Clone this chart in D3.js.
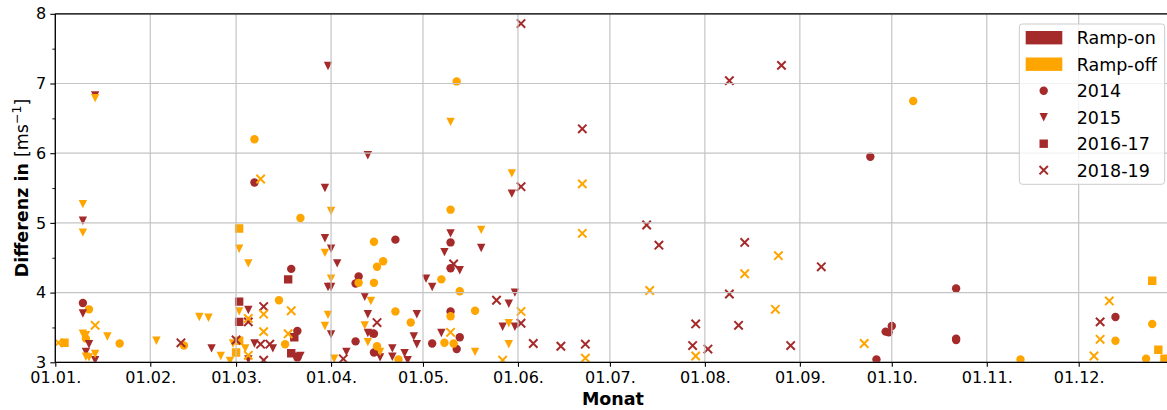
<!DOCTYPE html>
<html>
<head>
<meta charset="utf-8">
<script src="https://cdn.jsdelivr.net/npm/d3@7"></script>
<style>
  body { margin: 0; background: #fff; }
  text { font-family: "DejaVu Sans", sans-serif; }
</style>
</head>
<body>
<svg id="chart" width="1167" height="410"></svg>
<script>
// ---- data: [day "MM-DD", difference in m/s] ----
const monthTicks = ["01-01","02-01","03-01","04-01","05-01","06-01","07-01","08-01","09-01","10-01","11-01","12-01"];
const yTicks = [3, 4, 5, 6, 7, 8];
const rampNames = ["Ramp-on", "Ramp-off"];
const yearNames = ["2014", "2015", "2016-17", "2018-19"];

const on2014 = [["01-10",3.85],["03-07",5.58],["03-19",4.34],["03-21",3.45],["03-21",3.07],["04-10",4.23],["04-09",4.13],["04-22",4.76],["04-09",3.30],["04-15",3.41],["04-15",3.14],["05-04",3.27],["05-10",4.35],["05-10",4.72],["05-10",3.73],["05-13",3.36],["05-12",3.19],["09-24",5.95],["09-26",3.04],["09-29",3.44],["09-30",3.43],["10-01",3.52],["10-22",4.06],["10-22",3.34],["10-22",3.32],["12-13",3.65]];
const off2014 = [["01-12",3.76],["01-11",3.34],["01-22",3.27],["02-12",3.24],["03-07",6.20],["03-22",5.07],["03-15",3.89],["03-17",3.26],["04-15",4.73],["04-18",4.45],["04-16",4.37],["04-10",4.14],["04-15",4.14],["04-22",3.73],["04-27",3.57],["04-16",3.23],["04-23",3.04],["05-07",4.19],["05-08",3.28],["05-10",5.19],["05-12",7.03],["05-13",4.02],["05-10",3.66],["05-18",3.74],["05-11",3.27],["10-08",6.75],["11-12",3.04],["12-13",3.31],["12-25",3.55],["12-23",3.05]];
const on2015 = [["01-14",6.83],["01-10",5.03],["01-10",3.70],["01-12",3.26],["01-11",3.15],["01-14",3.03],["02-21",3.20],["03-05",3.75],["03-07",3.27],["03-13",3.20],["03-05",3.04],["03-21",3.08],["03-22",3.09],["03-30",5.50],["03-31",7.25],["03-30",4.78],["04-01",4.63],["04-03",4.42],["03-31",4.08],["04-01",4.08],["04-01",3.40],["04-06",3.15],["04-13",5.97],["04-12",3.94],["04-13",3.69],["04-13",3.42],["04-14",3.41],["04-17",3.07],["04-21",3.20],["04-21",3.08],["04-25",3.13],["04-26",3.03],["04-29",3.69],["04-28",3.37],["04-29",3.26],["05-02",4.20],["05-04",4.08],["05-07",3.42],["05-08",4.58],["05-10",4.85],["05-13",4.32],["05-20",4.64],["05-30",5.42],["05-31",4.00],["05-29",3.84],["05-27",3.51],["05-31",3.51]];
const off2015 = [["01-14",6.79],["01-10",5.27],["01-10",4.86],["01-10",3.41],["01-11",3.39],["01-11",3.08],["01-12",3.07],["01-14",3.12],["01-18",3.37],["02-03",3.31],["02-17",3.65],["02-20",3.64],["02-24",3.09],["02-27",3.02],["02-28",3.27],["03-02",4.63],["03-05",4.42],["03-02",3.73],["03-04",3.20],["04-01",5.17],["03-30",4.57],["04-01",4.20],["03-31",3.68],["03-30",3.52],["04-02",3.05],["04-14",3.88],["04-12",3.53],["04-13",3.29],["04-17",3.15],["05-10",6.45],["05-20",4.90],["05-18",3.15],["05-30",5.71],["05-29",3.56],["05-29",3.26]];
const on2016 = [["03-02",3.87],["03-02",3.58],["03-18",4.19],["03-20",3.36],["03-19",3.13]];
const off2016 = [["01-04",3.28],["03-02",4.92],["03-02",3.31],["03-01",3.14],["12-25",4.17],["12-27",3.18],["12-29",3.05]];
const on2018 = [["02-11",3.28],["03-01",3.32],["03-05",3.58],["03-10",3.80],["03-09",3.26],["03-12",3.26],["03-10",3.03],["04-05",3.05],["04-16",3.57],["05-11",4.41],["05-25",3.89],["06-02",5.52],["06-02",7.86],["06-02",3.56],["06-06",3.27],["06-15",3.23],["06-22",6.35],["06-23",3.26],["07-13",4.97],["07-17",4.68],["07-29",3.55],["07-28",3.24],["08-02",3.19],["08-09",3.98],["08-09",7.04],["08-12",3.53],["08-14",4.72],["08-26",7.26],["08-29",3.24],["09-08",4.37],["12-08",3.58]];
const off2018 = [["01-02",3.28],["01-14",3.53],["03-09",5.63],["03-05",3.63],["03-10",3.69],["03-10",3.44],["03-05",3.10],["03-19",3.74],["03-18",3.41],["05-10",3.43],["06-02",3.73],["05-27",3.03],["06-22",5.56],["06-22",4.85],["06-23",3.06],["07-14",4.03],["07-29",3.09],["08-14",4.27],["08-25",4.53],["08-24",3.76],["09-22",3.27],["12-06",3.09],["12-08",3.33],["12-11",3.88]];

// ---- styling ----
const colors = { "Ramp-on": "#a52a2a", "Ramp-off": "#ffa500" };
const M = 8.4; // marker size (px)

const triDown = { draw(ctx, size) { const h = Math.sqrt(size) / 2; ctx.moveTo(-h, -h); ctx.lineTo(h, -h); ctx.lineTo(0, h); ctx.closePath(); } };
const square  = { draw(ctx, size) { const h = Math.sqrt(size) / 2; ctx.rect(-h, -h, 2 * h, 2 * h); } };
const circle  = { draw(ctx, size) { const r = Math.sqrt(size) / 2; ctx.moveTo(r, 0); ctx.arc(0, 0, r, 0, 2 * Math.PI); } };
const cross   = { draw(ctx, size) { const h = Math.sqrt(size) / 2; ctx.moveTo(-h, -h); ctx.lineTo(h, h); ctx.moveTo(h, -h); ctx.lineTo(-h, h); } };
const shapes = { "2014": circle, "2015": triDown, "2016-17": square, "2018-19": cross };

const series = [
  { year: "2014", ramp: "Ramp-on", data: on2014 },
  { year: "2014", ramp: "Ramp-off", data: off2014 },
  { year: "2015", ramp: "Ramp-on", data: on2015 },
  { year: "2015", ramp: "Ramp-off", data: off2015 },
  { year: "2016-17", ramp: "Ramp-on", data: on2016 },
  { year: "2016-17", ramp: "Ramp-off", data: off2016 },
  { year: "2018-19", ramp: "Ramp-on", data: on2018 },
  { year: "2018-19", ramp: "Ramp-off", data: off2018 }
];

// ---- layout ----
const svg = d3.select("#chart");
const parseDay = d3.utcParse("%Y-%m-%d");
const day = s => parseDay("2014-" + s);

const plot = { left: 55.3, right: 1170.6, top: 13.8, bottom: 362.3 };
const x = d3.scaleUtc().domain([day("01-01"), day("12-31")]).range([plot.left, plot.right]);
const y = d3.scaleLinear().domain([3, 8]).range([plot.bottom, plot.top]);

svg.append("defs").append("clipPath").attr("id", "plotClip")
  .append("rect").attr("x", plot.left).attr("y", plot.top)
  .attr("width", plot.right - plot.left).attr("height", plot.bottom - plot.top);

// ---- scatter markers ----
const marks = svg.append("g").attr("clip-path", "url(#plotClip)");
series.forEach(s => {
  const isCross = s.year === "2018-19";
  const gen = d3.symbol().type(shapes[s.year]).size(M * M);
  marks.append("g").selectAll("path").data(s.data).join("path")
    .attr("transform", d => `translate(${x(day(d[0]))},${y(d[1])})`)
    .attr("d", gen)
    .attr("fill", isCross ? "none" : colors[s.ramp])
    .attr("stroke", isCross ? colors[s.ramp] : "none")
    .attr("stroke-width", isCross ? 2 : 0);
});

// ---- grid (drawn over the markers) ----
const grid = svg.append("g").attr("stroke", "#c4c4c4").attr("stroke-width", 1.2);
grid.selectAll("line.v").data(monthTicks).join("line")
  .attr("x1", d => x(day(d))).attr("x2", d => x(day(d)))
  .attr("y1", plot.top).attr("y2", plot.bottom);
grid.selectAll("line.h").data(yTicks).join("line")
  .attr("x1", plot.left).attr("x2", plot.right)
  .attr("y1", d => y(d)).attr("y2", d => y(d));

// ---- axes ----
const fmt = d3.utcFormat("%d.%m.");
const xAxis = d3.axisBottom(x).tickValues(monthTicks.map(day)).tickFormat(fmt).tickSize(4.5).tickPadding(5);
const gx = svg.append("g").attr("transform", `translate(0,${plot.bottom})`).call(xAxis);
gx.select(".domain").remove();
gx.selectAll("text").attr("font-size", 16).attr("fill", "#000").attr("font-family", "DejaVu Sans");
gx.selectAll("line").attr("stroke", "#000").attr("stroke-width", 1.1);

const yAxis = d3.axisLeft(y).tickValues(yTicks).tickFormat(d3.format("d")).tickSize(5).tickPadding(4);
const gy = svg.append("g").attr("transform", `translate(${plot.left},0)`).call(yAxis);
gy.select(".domain").remove();
gy.selectAll("text").attr("font-size", 16).attr("fill", "#000").attr("font-family", "DejaVu Sans");
gy.selectAll("line").attr("stroke", "#000").attr("stroke-width", 1.1);

const yMinor = d3.axisLeft(y).tickValues(d3.range(3.5, 8, 1)).tickFormat("").tickSize(3);
const gym = svg.append("g").attr("transform", `translate(${plot.left},0)`).call(yMinor);
gym.select(".domain").remove();
gym.selectAll("line").attr("stroke", "#000").attr("stroke-width", 0.9);

// spines
const spines = svg.append("g").attr("stroke", "#000").attr("stroke-width", 1.3).attr("fill", "none");
spines.append("line").attr("x1", plot.left).attr("x2", plot.left).attr("y1", plot.top).attr("y2", plot.bottom);
spines.append("line").attr("x1", plot.left).attr("x2", plot.right).attr("y1", plot.bottom).attr("y2", plot.bottom);
spines.append("line").attr("x1", plot.left).attr("x2", plot.right).attr("y1", plot.top).attr("y2", plot.top);
spines.append("line").attr("x1", plot.right).attr("x2", plot.right).attr("y1", plot.top).attr("y2", plot.bottom);

// axis titles
svg.append("text")
  .attr("x", (plot.left + plot.right) / 2).attr("y", 405)
  .attr("text-anchor", "middle").attr("font-size", 17.5).attr("font-weight", "bold")
  .text("Monat");

const yl = svg.append("text")
  .attr("transform", `translate(28,${(plot.top + plot.bottom) / 2}) rotate(-90)`)
  .attr("text-anchor", "middle").attr("font-size", 17.5);
yl.append("tspan").attr("font-weight", "bold").text("Differenz in ");
yl.append("tspan").text("[ms");
yl.append("tspan").attr("font-size", 12.5).attr("dy", -7).text("\u22121");
yl.append("tspan").attr("dy", 7).text("]");

// ---- legend ----
const lg = svg.append("g").attr("transform", "translate(1019.3,24)");
lg.append("rect").attr("width", 145.4).attr("height", 160.3).attr("rx", 3)
  .attr("fill", "#fff").attr("fill-opacity", 0.8).attr("stroke", "#cccccc").attr("stroke-width", 1);
const rowY = i => 13.7 + i * 26.5;
rampNames.forEach((r, i) => {
  lg.append("rect").attr("x", 6.4).attr("y", rowY(i) - 6.7).attr("width", 36.6).attr("height", 13.4).attr("fill", colors[r]);
  lg.append("text").attr("x", 57.4).attr("y", rowY(i) + 6.4).attr("font-size", 17.5).text(r);
});
yearNames.forEach((yn, j) => {
  const i = j + 2;
  const isCross = yn === "2018-19";
  lg.append("path")
    .attr("transform", `translate(24.4,${rowY(i)})`)
    .attr("d", d3.symbol().type(shapes[yn]).size(M * M))
    .attr("fill", isCross ? "none" : colors["Ramp-on"])
    .attr("stroke", isCross ? colors["Ramp-on"] : "none")
    .attr("stroke-width", isCross ? 2 : 0);
  lg.append("text").attr("x", 57.4).attr("y", rowY(i) + 6.4).attr("font-size", 17.5).text(yn);
});
</script>
</body>
</html>
